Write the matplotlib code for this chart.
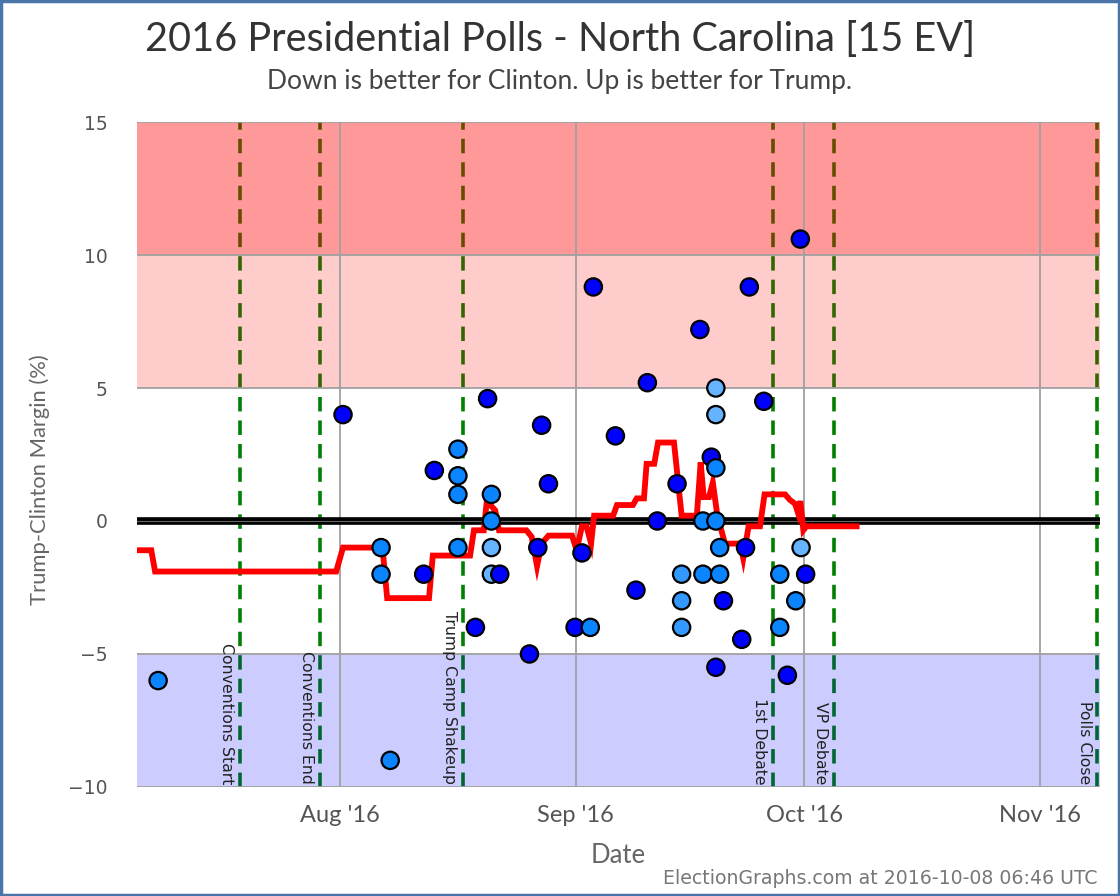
import datetime as dt
import matplotlib
matplotlib.use("Agg")
import matplotlib.pyplot as plt
import matplotlib.dates as mdates
from matplotlib.patches import Rectangle

# days after 2016-08-01
BASE = dt.datetime(2016, 8, 1)

poll_days = [-23.9, 0.4, 5.4, 5.4, 6.6, 11.0, 12.4,
             15.5, 15.5, 15.5, 15.5, 17.8, 19.4,
             19.9, 19.9, 19.9, 19.9, 21.0, 24.9, 26.0, 26.5, 27.4,
             30.9, 31.8, 32.9, 33.3, 36.2, 38.9, 40.4, 41.7, 44.3,
             44.9, 44.9, 44.9, 47.3, 47.7, 47.7, 48.8,
             49.4, 49.4, 49.4, 49.4, 49.4, 49.9, 49.9, 50.4,
             52.8, 53.3, 53.8, 55.7, 57.8, 57.8, 58.8, 59.9, 60.5, 60.6, 61.2]
poll_margin = [-6, 4, -1, -2, -9, -2, 1.9,
               2.7, 1.7, 1, -1, -4, 4.6,
               1, 0, -1, -2, -2, -5, -1, 3.6, 1.4,
               -4, -1.2, -4, 8.8, 3.2, -2.6, 5.2, 0, 1.4,
               -2, -3, -4, 7.2, 0, -2, 2.4,
               5, 4, 2, 0, -5.5, -1, -2, -3,
               -4.45, -1, 8.8, 4.5, -2, -4, -5.8, -3, 10.6, -1, -2]
poll_kind = ["m", "d", "m", "m", "m", "d", "d",
             "m", "m", "m", "m", "d", "d",
             "m", "m", "l", "l", "d", "d", "d", "d", "d",
             "d", "d", "m", "d", "d", "d", "d", "d", "d",
             "m2", "m2", "m2", "d", "m", "m", "d",
             "l", "l", "m", "m", "d", "m", "m", "d",
             "d", "d", "d", "d", "m", "m", "d", "m", "d", "l", "d"]
kind_colors = {"d": "#0000ff", "m": "#0a84ff", "m2": "#3399ff", "l": "#66b3ff"}

avg_days = [-26.7, -24.8, -24.3, -0.5, 0.4, 5.0, 5.65, 6.2, 11.7, 12.2, 17.1, 17.6,
            18.9, 19.3, 20.4, 20.9, 24.5, 25.2, 25.9, 26.5, 27.4, 30.5, 31.1, 31.8,
            32.4, 33.0, 33.4, 35.9, 36.4, 38.5, 39.0, 39.95, 40.3, 41.3, 41.8, 43.9,
            44.9, 46.9, 47.4, 47.8, 48.5, 49.0, 49.6, 50.6, 52.6, 53.0, 53.7, 55.2,
            55.8, 58.5, 59.1, 59.8, 60.2, 60.5, 60.9, 61.3, 67.9]
avg_margin = [-1.1, -1.1, -1.9, -1.9, -1.0, -1.0, -1.2, -2.9, -2.9, -1.3, -1.3, -0.35,
              -0.35, 0.75, 0.4, -0.35, -0.35, -0.6, -1.7, -0.85, -0.55, -0.55, -1.1, -0.2,
              -0.2, -0.85, 0.2, 0.2, 0.6, 0.6, 0.85, 0.85, 2.15, 2.15, 2.95, 2.95,
              0.2, 0.2, 2.2, 0.9, 0.9, 1.45, 0.2, -0.85, -0.85, -1.4, -0.2, -0.2,
              1.0, 1.0, 0.8, 0.65, 0.3, 0.75, -0.35, -0.2, -0.2]

event_days = [-13.14, -2.63, 16.16, 56.9, 64.9, 99.5]
event_names = ["Conventions Start", "Conventions End", "Trump Camp Shakeup",
               "1st Debate", "VP Debate", "Polls Close"]


def to_date(d):
    return BASE + dt.timedelta(days=d)


fig = plt.figure(figsize=(11.2, 8.96), dpi=100)
ax = fig.add_axes([0.1223, 0.1217, 0.8598, 0.7421])
fig.patches.append(Rectangle((0.001, 0.001), 0.998, 0.998, transform=fig.transFigure,
                             fill=False, edgecolor="#4a75a8", linewidth=2.5))

x0 = to_date(-26.68)
x1 = to_date(99.88)
ax.set_xlim(x0, x1)
ax.set_ylim(-10, 15)

# event lines below the coloured bands
for d, name in zip(event_days, event_names):
    ax.axvline(to_date(d), color="#008000", lw=2.6, ls=(0, (4, 2.5)), zorder=1)
    ax.annotate(name, xy=(to_date(d), -10), xytext=(-4, 2), textcoords="offset points",
                rotation=270, ha="right", va="bottom", fontsize=11.3,
                color="#222222", family="DejaVu Sans", zorder=6)

ax.axhspan(10, 15, color="red", alpha=0.4, lw=0, zorder=2)
ax.axhspan(5, 10, color="red", alpha=0.2, lw=0, zorder=2)
ax.axhspan(-10, -5, color="blue", alpha=0.2, lw=0, zorder=2)

ax.grid(True, color="#a0a0a0", lw=1.3, zorder=2.5)
ax.set_axisbelow(False)
for g in ax.get_xgridlines() + ax.get_ygridlines():
    g.set_zorder(2.5)

ax.axhline(0, color="black", lw=5.5, zorder=3)
ax.axhline(0, color="#666666", lw=0.8, zorder=3.1)

ax.plot([to_date(d) for d in avg_days], avg_margin, color="#ff0000", lw=4.2,
        solid_joinstyle="miter", zorder=4)

ax.scatter([to_date(d) for d in poll_days], poll_margin,
           c=[kind_colors[k] for k in poll_kind], s=155, edgecolors="black",
           linewidths=1.6, zorder=5)

for s in ax.spines.values():
    s.set_visible(False)
ax.xaxis.set_major_locator(mdates.MonthLocator())
ax.xaxis.set_major_formatter(mdates.DateFormatter("%b '%y"))
ax.set_yticks([-10, -5, 0, 5, 10, 15])
ax.tick_params(axis="y", length=0, labelsize=13.5, colors="#555555", pad=21)
ax.tick_params(axis="x", length=0, colors="#555555", pad=13)
for lab in ax.get_xticklabels():
    lab.set_family("Lato")
    lab.set_fontsize(17)
    lab.set_color("#555555")

ax.set_xlabel("Date", fontsize=18.5, color="#666666", family="Lato", labelpad=12)
ax.set_ylabel("Trump-Clinton Margin (%)", fontsize=15.8, color="#666666", family="Lato")
ax.yaxis.set_label_coords(-0.09, 0.462)

fig.text(0.5, 0.956, "2016 Presidential Polls - North Carolina [15 EV]", ha="center",
         va="center", fontsize=28.5, color="#333333", family="Lato")
fig.text(0.5, 0.909, "Down is better for Clinton. Up is better for Trump.", ha="center",
         va="center", fontsize=19, color="#444444", family="Lato")
fig.text(0.98, 0.02, "ElectionGraphs.com at 2016-10-08 06:46 UTC", ha="right",
         va="center", fontsize=13.6, color="#777777", family="DejaVu Sans")

fig.savefig("out.png", dpi=100)
